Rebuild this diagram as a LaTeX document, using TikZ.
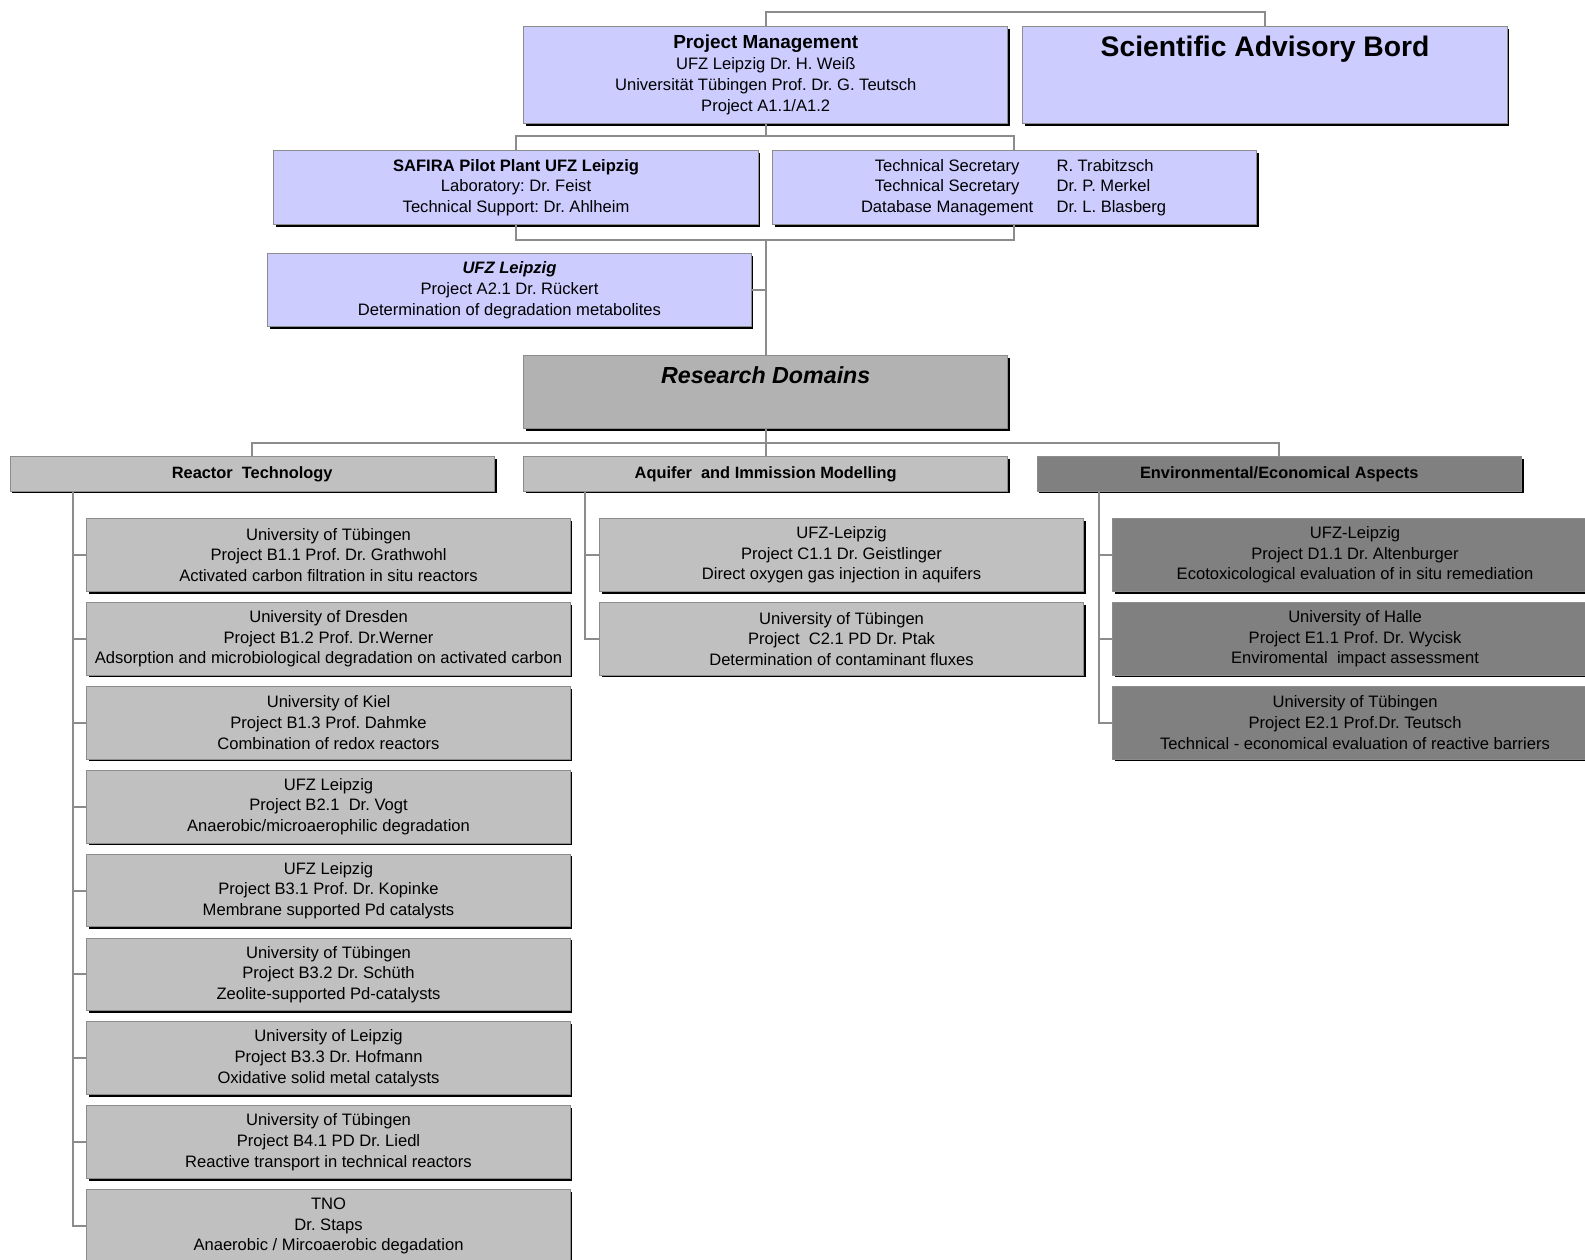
\documentclass[tikz,border=0pt]{standalone}
\usepackage{fontspec}
\setmainfont{Liberation Sans}
\frenchspacing
\usetikzlibrary{shadows}
\definecolor{lav}{HTML}{CCCCFF}
\definecolor{lgray}{HTML}{C0C0C0}
\definecolor{rdgray}{HTML}{B2B2B2}
\definecolor{dgray}{HTML}{808080}
\definecolor{conn}{HTML}{8C8C8C}
\begin{document}
\begin{tikzpicture}[x=1pt,y=-1pt,
  boxbase/.style={draw=conn, line width=1pt, inner sep=0pt, align=center,
    minimum width=479pt, minimum height=72pt,
    font=\fontsize{16.4}{20.5}\selectfont\frenchspacing,
    drop shadow={shadow xshift=2.2pt,shadow yshift=-2.2pt,opacity=1,fill=black}},
  lavbox/.style={boxbase, fill=lav},
  graybox/.style={boxbase, fill=lgray},
  darkbox/.style={boxbase, fill=dgray},
  headbox/.style={minimum height=34pt, font=\fontsize{16.2}{20}\selectfont\bfseries},
  txt/.style={inner sep=0pt, align=center, font=\fontsize{16.4}{20.5}\selectfont\frenchspacing},
  link/.style={draw=conn, line width=2pt}
]
\clip (0,0) rectangle (1568,1246);
\fill[white] (0,0) rectangle (1568,1246);

% top level
\node[lavbox, minimum height=96pt] (pm) at (757.5,74)
  {{\fontsize{18.7}{21}\selectfont\bfseries Project Management}\\
   UFZ Leipzig Dr. H. Weiß\\
   Universität Tübingen Prof. Dr. G. Teutsch\\
   Project A1.1/A1.2};
\node[lavbox, minimum height=96pt] (sab) at (1251.5,74) {};
\node[txt, font=\fontsize{28}{30}\selectfont\bfseries] (sabt) at (1251.5,49) {Scientific Advisory Bord};

% second level
\node[lavbox, minimum height=73pt] (saf) at (510.5,185.5)
  {\textbf{SAFIRA Pilot Plant UFZ Leipzig}\\
   Laboratory: Dr. Feist\\
   Technical Support: Dr. Ahlheim};
\node[lavbox, minimum height=73pt] (ts) at (1003.5,185.5) {};
\node[txt] (tsl) at (937,185.5) {Technical Secretary\\Technical Secretary\\Database Management};
\node[txt, anchor=west, align=left] (tsr) at (1045,185.5) {R. Trabitzsch\\Dr. P. Merkel\\Dr. L. Blasberg};

\node[lavbox, minimum width=478pt] (ufz) at (504,287)
  {\textbf{\itshape UFZ Leipzig}\\
   Project A2.1 Dr. Rückert\\
   Determination of degradation metabolites};

% research domains
\node[boxbase, fill=rdgray] (rd) at (757.5,388) {};
\node[txt, font=\fontsize{23}{26}\selectfont\bfseries\itshape] (rdt) at (757.5,371) {Research Domains};

% headers
\node[graybox, headbox] (rt) at (249.5,469) {Reactor\ \ Technology};
\node[graybox, headbox] (aq) at (757.5,469) {Aquifer\ \ and Immission Modelling};
\node[darkbox, headbox] (en) at (1265.5,469) {Environmental/Economical Aspects};

% reactor technology boxes
\node[graybox, minimum width=478pt] (b1) at (325,549) {University of Tübingen\\Project B1.1 Prof. Dr. Grathwohl\\Activated carbon filtration in situ reactors};
\node[graybox, minimum width=478pt] (b2) at (325,632) {University of Dresden\\Project B1.2 Prof. Dr.Werner\\Adsorption and microbiological degradation on activated carbon};
\node[graybox, minimum width=478pt] (b3) at (325,715) {University of Kiel\\Project B1.3 Prof. Dahmke\\Combination of redox reactors};
\node[graybox, minimum width=478pt] (b4) at (325,798) {UFZ Leipzig\\Project B2.1\ \ Dr. Vogt\\Anaerobic/microaerophilic degradation};
\node[graybox, minimum width=478pt] (b5) at (325,881) {UFZ Leipzig\\Project B3.1 Prof. Dr. Kopinke\\Membrane supported Pd catalysts};
\node[graybox, minimum width=478pt] (b6) at (325,964) {University of Tübingen\\Project B3.2 Dr. Schüth\\Zeolite-supported Pd-catalysts};
\node[graybox, minimum width=478pt] (b7) at (325,1047) {University of Leipzig\\Project B3.3 Dr. Hofmann\\Oxidative solid metal catalysts};
\node[graybox, minimum width=478pt] (b8) at (325,1130) {University of Tübingen\\Project B4.1 PD Dr. Liedl\\Reactive transport in technical reactors};
\node[graybox, minimum width=478pt] (b9) at (325,1213) {TNO\\Dr. Staps\\Anaerobic / Mircoaerobic degadation};

% aquifer boxes
\node[graybox] (c1) at (832.5,549) {UFZ-Leipzig\\Project C1.1 Dr. Geistlinger\\Direct oxygen gas injection in aquifers};
\node[graybox] (c2) at (832.5,632) {University of Tübingen\\Project\ \ C2.1 PD Dr. Ptak\\Determination of contaminant fluxes};

% environmental boxes
\node[darkbox] (d1) at (1340.5,549) {UFZ-Leipzig\\Project D1.1 Dr. Altenburger\\Ecotoxicological evaluation of in situ remediation};
\node[darkbox] (e1) at (1340.5,632) {University of Halle\\Project E1.1 Prof. Dr. Wycisk\\Enviromental\ \ impact assessment};
\node[darkbox] (e2) at (1340.5,715) {University of Tübingen\\Project E2.1 Prof.Dr. Teutsch\\Technical - economical evaluation of reactive barriers};

% connectors
\coordinate (j0) at (1004,12);
\draw[link] (pm.north) |- (j0) -| (sab.north);
\coordinate (j1) at (757.5,135);
\draw[link] (pm.south) -- (j1);
\draw[link] (saf.north) |- (j1) -| (ts.north);
\coordinate (j2) at (757.5,237);
\draw[link] (saf.south) |- (j2) -| (ts.south);
\draw[link] (j2) -- (rd.north);
\draw[link] (ufz.east) -- (ufz.east -| j2);
\coordinate (j3) at (757.5,438);
\draw[link] (rd.south) -- (j3);
\draw[link] (rt.north) |- (j3) -| (en.north);
\draw[link] (j3) -- (aq.north);

\coordinate (rtb) at (72,486);
\draw[link] (rtb) |- (b9.west);
\foreach \b in {b1,b2,b3,b4,b5,b6,b7,b8} {\draw[link] (\b.west) -- (\b.west -| rtb);}
\coordinate (aqb) at (579,486);
\draw[link] (aqb) |- (c2.west);
\draw[link] (c1.west) -- (c1.west -| aqb);
\coordinate (enb) at (1087,486);
\draw[link] (enb) |- (e2.west);
\draw[link] (d1.west) -- (d1.west -| enb);
\draw[link] (e1.west) -- (e1.west -| enb);
\end{tikzpicture}
\end{document}
